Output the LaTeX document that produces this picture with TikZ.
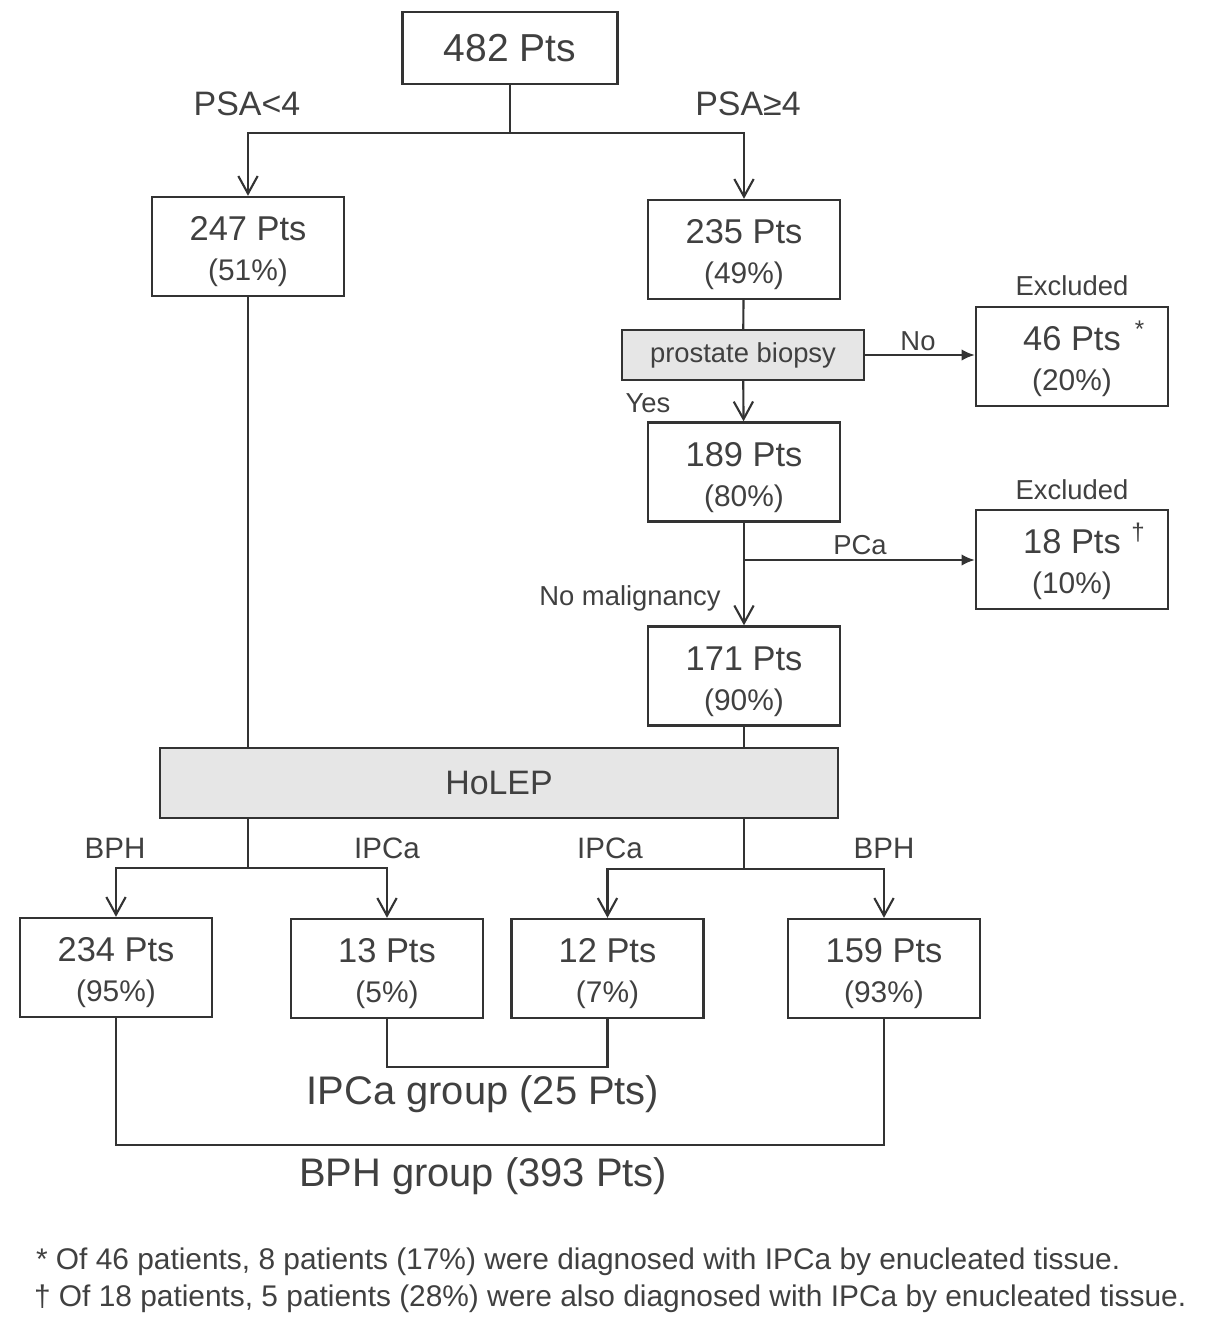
\documentclass[tikz,border=0pt]{standalone}
\usepackage{fontspec}
\setmainfont{Liberation Sans}
\usetikzlibrary{arrows.meta}
\definecolor{txt}{HTML}{404040}
\definecolor{ln}{HTML}{333333}
\definecolor{shade}{HTML}{E6E6E6}
\newcommand{\numfont}{\fontsize{19.6}{22.8}\selectfont}
\newcommand{\pctfont}{\fontsize{17}{22.8}\selectfont}
\newcommand{\lblfont}{\fontsize{15.6}{18}\selectfont}
\newcommand{\pts}[2]{{\numfont\rule{0pt}{19.5pt}#1}\\(#2\%)}

\begin{document}
\begin{tikzpicture}[x=0.02cm,y=-0.02cm,->,>={Straight Barb[length=10pt,width=11pt]},
  line width=1.2pt,color=ln,text=txt,
  block/.style={draw=ln,line width=1.4pt,minimum width=3.84cm,minimum height=1.98cm,
    inner sep=0pt,align=center,font=\pctfont},
  grey block/.style={block,fill=shade},
  lbl/.style={inner sep=0pt,font=\lblfont},
  big lbl/.style={inner sep=0pt,font=\fontsize{19.3}{22}\selectfont},
  mid lbl/.style={inner sep=0pt,font=\fontsize{16.8}{20}\selectfont},
  group lbl/.style={inner sep=0pt,font=\fontsize{22.7}{26}\selectfont},
  note/.style={inner sep=0pt,anchor=west,font=\fontsize{17}{20}\selectfont},
  fillarrow/.style={-{Latex[length=7.5pt,width=6.5pt]}}]

  \useasboundingbox (0,0) rectangle (1205,1339);

  % boxes
  \node[block,minimum width=4.3cm,minimum height=1.44cm,font=\fontsize{22.2}{26}\selectfont] (all) at (510,48) {482 Pts};
  \node[block] (low) at (248,246.5) {\pts{247 Pts}{51}};
  \node[block] (high) at (744,249.5) {\pts{235 Pts}{49}};
  \node[grey block,minimum width=4.84cm,minimum height=1cm,font=\lblfont] (biopsy) at (743,355) {prostate biopsy};
  \node[block] (ex1) at (1072,356.5) {\pts{46 Pts\rlap{\hspace{8pt}\textsuperscript{*}}}{20}};
  \node[block] (bx) at (744,472) {\pts{189 Pts}{80}};
  \node[block] (ex2) at (1072,559.5) {\pts{18 Pts\rlap{\hspace{6pt}\textsuperscript{†}}}{10}};
  \node[block] (neg) at (744,676) {\pts{171 Pts}{90}};
  \node[grey block,minimum width=13.56cm,minimum height=1.4cm,font=\fontsize{19.3}{22}\selectfont] (holep) at (499,783) {HoLEP};
  \node[block] (b1) at (116,967.5) {\pts{234 Pts}{95}};
  \node[block] (c1) at (387,968.5) {\pts{13 Pts}{5}};
  \node[block] (c2) at (607.5,968.5) {\pts{12 Pts}{7}};
  \node[block] (b2) at (884,968.5) {\pts{159 Pts}{93}};

  % labels
  \node[big lbl] (psalow) at (247,104) {PSA<4};
  \node[big lbl] (psahigh) at (748,104) {PSA≥4};
  \node[lbl] (no) at (918,341) {No};
  \node[lbl] (yes) at (648,403) {Yes};
  \node[lbl] (exl1) at (1072,286) {Excluded};
  \node[lbl] (exl2) at (1072,490) {Excluded};
  \node[lbl] (pca) at (860,545) {PCa};
  \node[lbl] (nomal) at (630,598) {No malignancy};
  \node[mid lbl] (bph1) at (115,848) {BPH};
  \node[mid lbl] (ipca1) at (387,848) {IPCa};
  \node[mid lbl] (ipca2) at (610,848) {IPCa};
  \node[mid lbl] (bph2) at (884,848) {BPH};
  \node[group lbl] (ipcagrp) at (483,1094) {IPCa group (25 Pts)};
  \node[group lbl] (bphgrp) at (483,1176) {BPH group (393 Pts)};
  \node[note] (fn1) at (35,1262) {* Of 46 patients, 8 patients (17\%) were diagnosed with IPCa by enucleated tissue.};
  \node[note] (fn2) at (33,1299) {† Of 18 patients, 5 patients (28\%) were also diagnosed with IPCa by enucleated tissue.};

  % junctions
  \coordinate (s1) at (510,133);
  \coordinate (s2) at (744,560);
  \coordinate (s3) at (248,868);
  \coordinate (s4) at (744,869);
  \coordinate (g1) at (497,1067);
  \coordinate (g2) at (498,1145);

  % connectors
  \draw[-] (all) -- (s1);
  \draw (s1) -| (low);
  \draw (s1) -| (high);
  \draw[-] (high) -- (biopsy);
  \draw (biopsy) -- (bx);
  \draw[fillarrow] (biopsy.east) -- (biopsy.east -| ex1.west);
  \draw (bx) -- (neg);
  \draw[fillarrow] (s2) -- (s2 -| ex2.west);
  \draw[-] (low) -- (low |- holep.north);
  \draw[-] (neg) -- (neg |- holep.north);
  \draw[-] (holep.south -| s3) -- (s3);
  \draw (s3) -| (b1);
  \draw (s3) -| (c1);
  \draw[-] (holep.south -| s4) -- (s4);
  \draw (s4) -| (c2);
  \draw (s4) -| (b2);
  \draw[-] (c1) |- (g1) -| (c2);
  \draw[-] (b1) |- (g2) -| (b2);
\end{tikzpicture}
\end{document}
